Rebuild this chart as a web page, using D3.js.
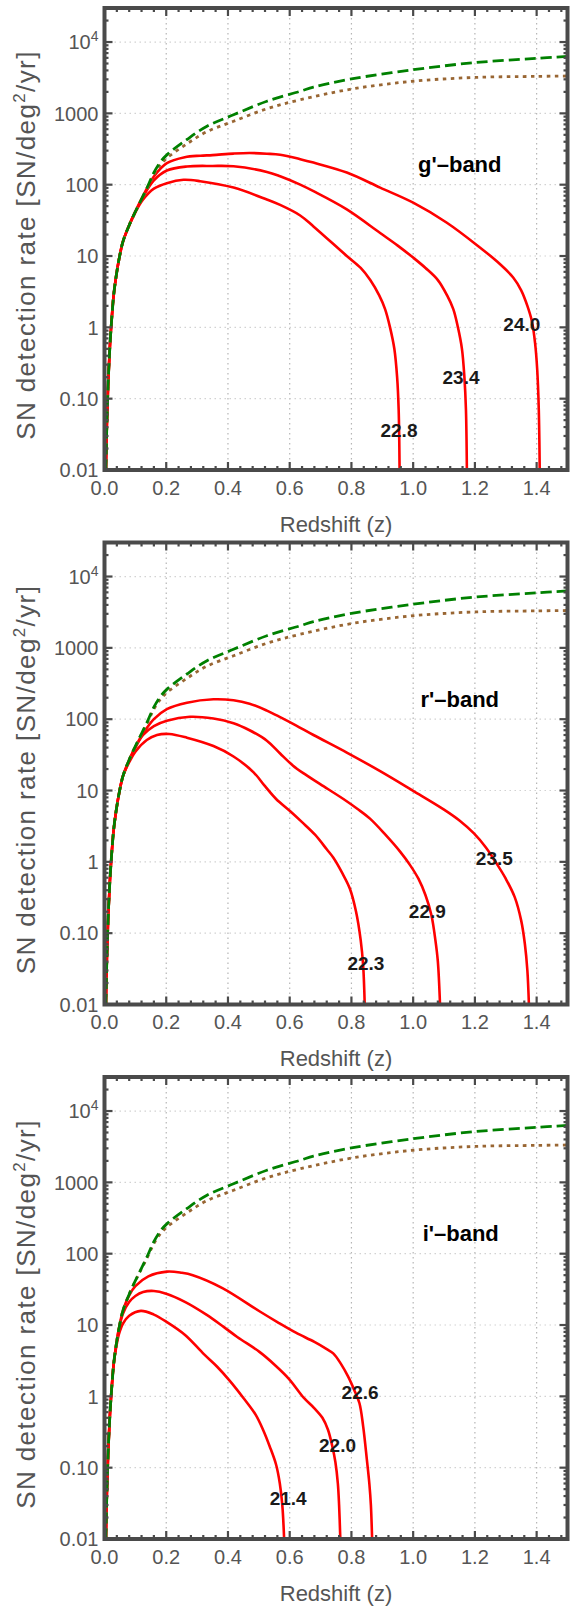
<!DOCTYPE html>
<html>
<head>
<meta charset="utf-8">
<script src="https://cdn.jsdelivr.net/npm/d3@7"></script>
<style>
  body { margin: 0; background: #fff; }
  svg { display: block; font-family: "Liberation Sans", Arial, sans-serif; }
</style>
</head>
<body>
<svg id="chart" width="580" height="1606"></svg>
<script>
// common rise at low redshift, shared by every curve
const low_z = [
    [0.003, 0.0035], [0.005, 0.013], [0.008, 0.05], [0.012, 0.17], [0.017, 0.5],
    [0.023, 1.25], [0.03, 2.9], [0.038, 5.3], [0.047, 9], [0.06, 16],
];
const upto = z_max => low_z.filter(d => d[0] <= z_max);

// shared rate curves (all three panels)
const rate_total = low_z.concat([
    [0.08, 27], [0.1, 42], [0.116, 58], [0.14, 95], [0.159, 145], [0.18, 205], [0.202, 262],
    [0.267, 430], [0.332, 660], [0.418, 955], [0.526, 1480], [0.634, 2040], [0.677, 2340],
    [0.8, 3040], [1.0, 4090], [1.2, 5150], [1.4, 5900], [1.5, 6300],
]);
const rate_other = low_z.concat([
    [0.08, 27], [0.1, 41.5], [0.116, 57], [0.14, 91], [0.159, 136], [0.18, 188], [0.202, 236],
    [0.267, 374], [0.332, 554], [0.418, 775], [0.526, 1160], [0.634, 1550], [0.8, 2190],
    [1.0, 2820], [1.2, 3190], [1.4, 3300], [1.5, 3340],
]);

// g'-band
const g_names = ['22.8', '23.4', '24.0'];
const g_curves = [
    upto(0.06).concat([[0.08, 27], [0.1, 41], [0.125, 62], [0.16, 88], [0.202, 105], [0.256, 117],
        [0.31, 112], [0.418, 91], [0.526, 62], [0.569, 52], [0.634, 37], [0.677, 26], [0.785, 10],
        [0.83, 6.8], [0.861, 4.6], [0.89, 2.8], [0.909, 1.8], [0.925, 1.0], [0.939, 0.5], [0.948, 0.2],
        [0.953, 0.07], [0.956, 0.01]]),
    upto(0.06).concat([[0.08, 27], [0.1, 42], [0.125, 68], [0.16, 115], [0.202, 158], [0.267, 180],
        [0.35, 183], [0.418, 181], [0.526, 151], [0.569, 131], [0.634, 100], [0.677, 81], [0.785, 45],
        [0.893, 21], [0.95, 14], [1.0, 9.5], [1.04, 6.8], [1.08, 4.6], [1.11, 2.8], [1.13, 1.8],
        [1.145, 1.0], [1.158, 0.5], [1.166, 0.2], [1.171, 0.07], [1.174, 0.01]]),
    upto(0.06).concat([[0.08, 27], [0.1, 42], [0.125, 70], [0.16, 130], [0.202, 200], [0.26, 243],
        [0.31, 255], [0.35, 260], [0.418, 273], [0.47, 278], [0.526, 272], [0.569, 263], [0.634, 228],
        [0.677, 204], [0.785, 148], [0.893, 91], [1.0, 56], [1.108, 29.5], [1.216, 13.2], [1.27, 8.5],
        [1.324, 5.0], [1.35, 3.3], [1.37, 2.0], [1.385, 1.2], [1.395, 0.6], [1.402, 0.25],
        [1.407, 0.07], [1.41, 0.01]]),
];
const g_label_pos = [[0.954, 0.036], [1.155, 0.197], [1.352, 1.1]];

// r'-band
const r_names = ['22.3', '22.9', '23.5'];
const r_curves = [
    upto(0.06).concat([[0.08, 25], [0.1, 35], [0.137, 51], [0.17, 60], [0.21, 62], [0.267, 55],
        [0.353, 42], [0.418, 30], [0.483, 18], [0.52, 11.5], [0.556, 7.6], [0.6, 5.2], [0.64, 3.6],
        [0.682, 2.4], [0.72, 1.5], [0.741, 1.15], [0.77, 0.7], [0.795, 0.42], [0.815, 0.2],
        [0.83, 0.08], [0.838, 0.035], [0.843, 0.01]]),
    upto(0.06).concat([[0.08, 26], [0.1, 40], [0.125, 60], [0.16, 80], [0.202, 95], [0.277, 108],
        [0.353, 102], [0.418, 88], [0.47, 70], [0.526, 50], [0.569, 33], [0.61, 22.5], [0.644, 17.5],
        [0.7, 12.2], [0.774, 7.6], [0.82, 5.5], [0.861, 4.0], [0.91, 2.4], [0.957, 1.4], [0.99, 0.9],
        [1.017, 0.58], [1.04, 0.34], [1.059, 0.18], [1.072, 0.08], [1.08, 0.04], [1.087, 0.01]]),
    upto(0.06).concat([[0.08, 27], [0.1, 41], [0.125, 63], [0.16, 100], [0.202, 138], [0.267, 170],
        [0.353, 190], [0.418, 184], [0.47, 165], [0.526, 132], [0.569, 107], [0.62, 82], [0.677, 60],
        [0.785, 34], [0.893, 18.7], [1.0, 9.9], [1.1, 5.4], [1.15, 3.8], [1.197, 2.5], [1.235, 1.6],
        [1.268, 0.98], [1.3, 0.58], [1.329, 0.32], [1.35, 0.15], [1.362, 0.07], [1.37, 0.03],
        [1.375, 0.01]]),
];
const r_label_pos = [[0.847, 0.037], [1.046, 0.2], [1.263, 1.1]];

// i'-band
const i_names = ['21.4', '22.0', '22.6'];
const i_curves = [
    upto(0.03).concat([[0.038, 4.9], [0.047, 7.5], [0.06, 10.5], [0.08, 13.5], [0.118, 15.8],
        [0.16, 14], [0.202, 11], [0.262, 7.2], [0.322, 3.9], [0.365, 2.6], [0.406, 1.65], [0.45, 0.95],
        [0.49, 0.55], [0.515, 0.33], [0.535, 0.2], [0.556, 0.11], [0.568, 0.06], [0.576, 0.03],
        [0.582, 0.01]]),
    upto(0.047).concat([[0.06, 14.5], [0.08, 21], [0.1, 25.5], [0.125, 29], [0.16, 30], [0.2, 27.5],
        [0.262, 21], [0.33, 14], [0.385, 9.5], [0.43, 6.8], [0.502, 4.2], [0.55, 2.8], [0.598, 1.75],
        [0.646, 0.95], [0.68, 0.68], [0.706, 0.5], [0.724, 0.34], [0.738, 0.2], [0.748, 0.12],
        [0.756, 0.06], [0.76, 0.03], [0.764, 0.01]]),
    upto(0.06).concat([[0.08, 26], [0.1, 35], [0.142, 48], [0.202, 56], [0.25, 54], [0.286, 50],
        [0.382, 33], [0.502, 15.6], [0.56, 11], [0.62, 7.8], [0.68, 5.8], [0.72, 4.6], [0.741, 4.0],
        [0.765, 2.9], [0.789, 1.9], [0.81, 1.2], [0.826, 0.8], [0.838, 0.38], [0.85, 0.13],
        [0.858, 0.06], [0.863, 0.03], [0.867, 0.01]]),
];
const i_label_pos = [[0.595, 0.037], [0.755, 0.205], [0.828, 1.15]];

const bands = ["g'\u2013band", "r'\u2013band", "i'\u2013band"];
const band_pos = [[1.151, 190], [1.151, 190], [1.154, 190]];

const x_ticks = [0, 0.2, 0.4, 0.6, 0.8, 1.0, 1.2, 1.4];
const y_ticks = [0.01, 0.1, 1, 10, 100, 1000, 10000];
const y_tick_labels = ['0.01', '0.10', '1', '10', '100', '1000', '10^4'];

const panel_tops = [8, 542.5, 1077];
const plot_left = 104.5;
const plot_right = 567.5;
const plot_h = 462;
const frame_color = '#4a4a4a';
const text_color = '#555';

const svg = d3.select('#chart');

const x = d3.scaleLinear().domain([0, 1.5]).range([plot_left, plot_right]);
const y = d3.scaleLog().domain([0.01, 30000]).range([plot_h, 0]);
const line = d3.line().x(d => x(d[0])).y(d => y(d[1])).curve(d3.curveCatmullRom.alpha(0.5));

const x_minor = d3.range(0, 1.5001, 0.04).map(v => +v.toFixed(2)).filter(v => !x_ticks.includes(v));
const y_minor = [];
[0.01, 0.1, 1, 10, 100, 1000, 10000].forEach(dec => {
    for (let k = 2; k <= 9; k++) {
        if (dec * k <= 30000) y_minor.push(dec * k);
    }
});


function draw_panel(index, curves, names, label_pos) {
    const g = svg.append('g').attr('transform', `translate(0, ${panel_tops[index]})`);

    g.append('clipPath').attr('id', `clip${index}`)
        .append('rect')
        .attr('x', plot_left).attr('y', 0)
        .attr('width', plot_right - plot_left).attr('height', plot_h);

    // grid
    g.selectAll('.vgrid').data(x_ticks.slice(1)).join('line')
        .attr('x1', d => x(d)).attr('x2', d => x(d))
        .attr('y1', 0).attr('y2', plot_h)
        .attr('stroke', '#b5b5b5').attr('stroke-width', 1.2)
        .attr('stroke-dasharray', '1.5,3.5');
    g.selectAll('.hgrid').data(y_ticks.slice(1)).join('line')
        .attr('x1', plot_left).attr('x2', plot_right)
        .attr('y1', d => y(d)).attr('y2', d => y(d))
        .attr('stroke', '#d2d2d2').attr('stroke-width', 1.2)
        .attr('stroke-dasharray', '1.5,3.5');

    const plot = g.append('g').attr('clip-path', `url(#clip${index})`);

    curves.forEach(c => {
        plot.append('path')
            .attr('d', line(c))
            .attr('fill', 'none')
            .attr('stroke', '#ff0000')
            .attr('stroke-width', 2.6);
    });
    plot.append('path')
        .attr('d', line(rate_other))
        .attr('fill', 'none')
        .attr('stroke', '#996633')
        .attr('stroke-width', 2.8)
        .attr('stroke-dasharray', '3.5,4.5');
    plot.append('path')
        .attr('d', line(rate_total))
        .attr('fill', 'none')
        .attr('stroke', '#008000')
        .attr('stroke-width', 2.8)
        .attr('stroke-dasharray', '11,5');

    // curve labels
    g.selectAll('.clabel').data(names).join('text')
        .attr('x', (d, i) => x(label_pos[i][0]))
        .attr('y', (d, i) => y(label_pos[i][1]))
        .attr('text-anchor', 'middle')
        .attr('dominant-baseline', 'central')
        .attr('font-size', 19)
        .attr('font-weight', 'bold')
        .attr('fill', '#1a1a1a')
        .text(d => d);

    g.append('text')
        .attr('x', x(band_pos[index][0]))
        .attr('y', y(band_pos[index][1]))
        .attr('text-anchor', 'middle')
        .attr('dominant-baseline', 'central')
        .attr('font-size', 22)
        .attr('font-weight', 'bold')
        .attr('fill', '#000')
        .text(bands[index]);

    // ticks, all four sides, pointing inwards
    const tick_attrs = sel => sel.attr('stroke', frame_color).attr('stroke-width', 2.2);
    [[x_ticks.concat([1.5]), 8], [x_minor, 4]].forEach(([vals, len]) => {
        g.append('g').selectAll('line').data(vals).join('line')
            .attr('x1', d => x(d)).attr('x2', d => x(d))
            .attr('y1', plot_h).attr('y2', plot_h - len)
            .call(tick_attrs);
        g.append('g').selectAll('line').data(vals).join('line')
            .attr('x1', d => x(d)).attr('x2', d => x(d))
            .attr('y1', 0).attr('y2', len)
            .call(tick_attrs);
    });
    [[y_ticks, 8], [y_minor, 4]].forEach(([vals, len]) => {
        g.append('g').selectAll('line').data(vals).join('line')
            .attr('x1', plot_left).attr('x2', plot_left + len)
            .attr('y1', d => y(d)).attr('y2', d => y(d))
            .call(tick_attrs);
        g.append('g').selectAll('line').data(vals).join('line')
            .attr('x1', plot_right).attr('x2', plot_right - len)
            .attr('y1', d => y(d)).attr('y2', d => y(d))
            .call(tick_attrs);
    });

    g.append('rect')
        .attr('x', plot_left).attr('y', 0)
        .attr('width', plot_right - plot_left).attr('height', plot_h)
        .attr('fill', 'none')
        .attr('stroke', frame_color)
        .attr('stroke-width', 4);

    // tick labels
    g.selectAll('.xlab').data(x_ticks).join('text')
        .attr('x', d => x(d))
        .attr('y', plot_h + 24.5)
        .attr('text-anchor', 'middle')
        .attr('font-size', 20)
        .attr('fill', text_color)
        .text(d3.format('.1f'));

    y_ticks.forEach((v, i) => {
        const t = g.append('text')
            .attr('x', plot_left - 6)
            .attr('y', y(v))
            .attr('dy', '0.36em')
            .attr('text-anchor', 'end')
            .attr('font-size', 20)
            .attr('fill', text_color);
        const lab = y_tick_labels[i];
        if (lab.includes('^')) {
            const [base, pow] = lab.split('^');
            t.append('tspan').text(base);
            t.append('tspan').attr('font-size', 14).attr('dy', -8).text(pow);
        } else {
            t.text(lab);
        }
    });

    g.append('text')
        .attr('x', (plot_left + plot_right) / 2)
        .attr('y', plot_h + 61.5)
        .attr('text-anchor', 'middle')
        .attr('font-size', 22)
        .attr('fill', text_color)
        .text('Redshift (z)');

    const ylab = g.append('text')
        .attr('transform', `translate(35, ${plot_h / 2 + 6}) rotate(-90)`)
        .attr('text-anchor', 'middle')
        .attr('font-size', 26)
        .attr('letter-spacing', 1.4)
        .attr('fill', text_color);
    ylab.append('tspan').text('SN detection rate [SN/deg');
    ylab.append('tspan').attr('font-size', 17).attr('dy', -10).text('2');
    ylab.append('tspan').attr('dy', 10).text('/yr]');
}


draw_panel(0, g_curves, g_names, g_label_pos);
draw_panel(1, r_curves, r_names, r_label_pos);
draw_panel(2, i_curves, i_names, i_label_pos);
</script>
</body>
</html>
